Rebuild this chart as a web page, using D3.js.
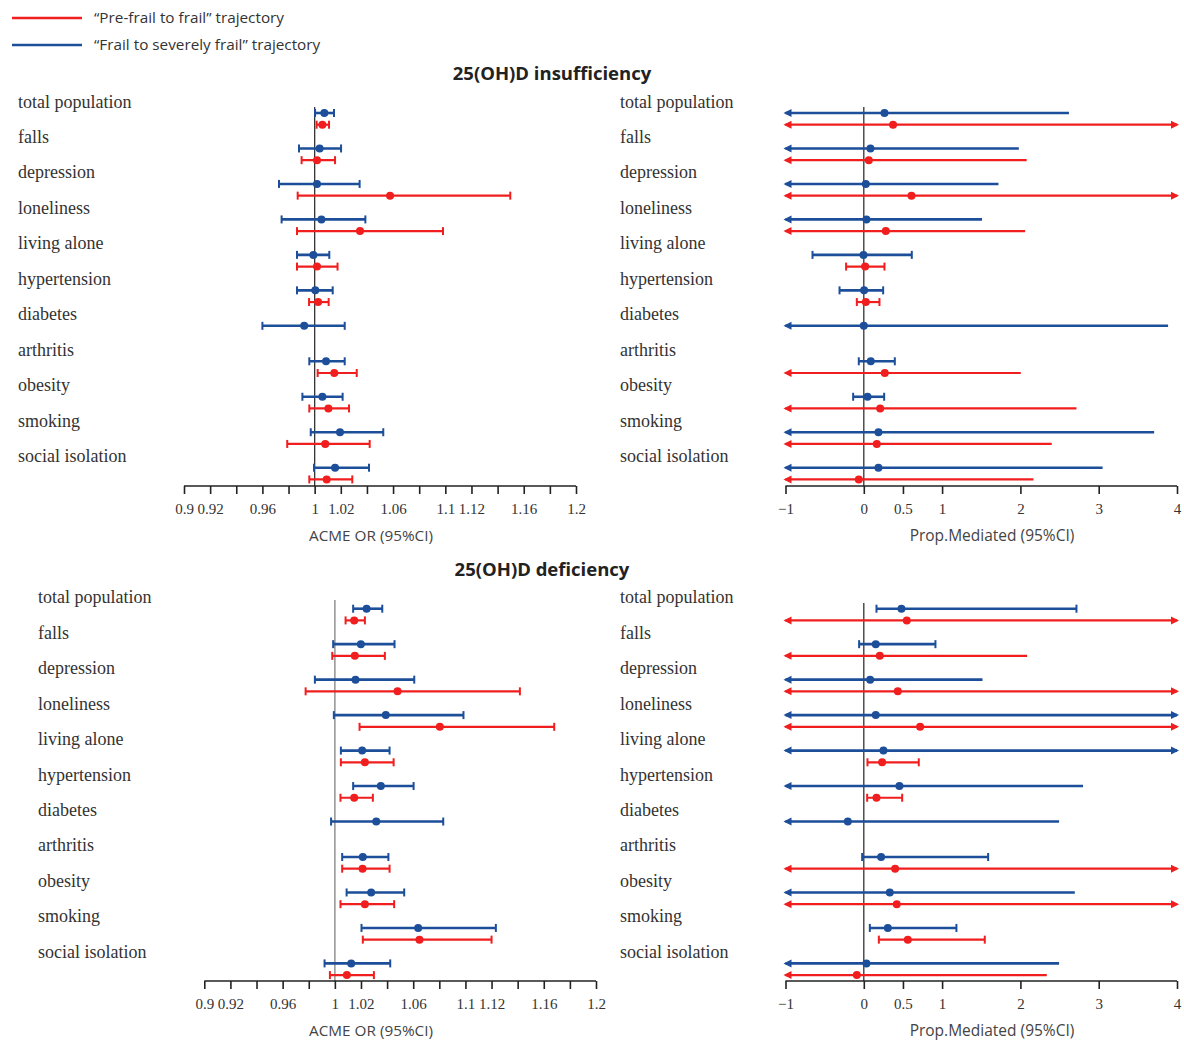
<!DOCTYPE html>
<html>
<head>
<meta charset="utf-8">
<script src="https://cdn.jsdelivr.net/npm/d3@7"></script>
<style>
  body { margin: 0; background: #fff; }
</style>
</head>
<body>
<script>
// Row categories (same order for every panel)
const categories = ["total population", "falls", "depression", "loneliness", "living alone",
  "hypertension", "diabetes", "arthritis", "obesity", "smoking", "social isolation"];

// [lower, estimate, upper]; null = no estimate; +/-Infinity = CI runs past the axis (arrow)
const insuffAcmeBlue = [[1.0003, 1.0074, 1.0148], [0.988, 1.0038, 1.0202], [0.9727, 1.0018, 1.0344],
  [0.9747, 1.0052, 1.0388], [0.9865, 0.999, 1.0112], [0.9865, 1.0005, 1.0138], [0.960, 0.992, 1.023],
  [0.9959, 1.0087, 1.023], [0.9906, 1.0059, 1.0214], [0.997, 1.0194, 1.0525], [0.9995, 1.0156, 1.0416]];
const insuffAcmeRed = [[1.0015, 1.0059, 1.011], [0.990, 1.0018, 1.0156], [0.987, 1.0577, 1.1497],
  [0.9865, 1.0347, 1.0982], [0.9865, 1.0018, 1.0175], [0.9957, 1.0026, 1.0107], null,
  [1.0023, 1.015, 1.0322], [0.9959, 1.0105, 1.0263], [0.979, 1.0081, 1.0421], [0.9959, 1.0092, 1.0288]];

const insuffPropBlue = [[-Infinity, 0.264, 2.62], [-Infinity, 0.085, 1.98], [-Infinity, 0.026, 1.72],
  [-Infinity, 0.034, 1.51], [-0.655, -0.004, 0.613], [-0.31, 0.004, 0.247], [-Infinity, 0.0, 3.886],
  [-0.064, 0.089, 0.396], [-0.136, 0.047, 0.26], [-Infinity, 0.187, 3.708], [-Infinity, 0.187, 3.05]];
const insuffPropRed = [[-Infinity, 0.374, Infinity], [-Infinity, 0.064, 2.08], [-Infinity, 0.609, Infinity],
  [-Infinity, 0.281, 2.06], [-0.226, 0.017, 0.264], [-0.089, 0.026, 0.2], null,
  [-Infinity, 0.268, 2.005], [-Infinity, 0.209, 2.716], [-Infinity, 0.166, 2.40], [-Infinity, -0.064, 2.167]];

const defAcmeBlue = [[1.014, 1.0243, 1.0363], [0.9987, 1.0199, 1.0457], [0.9847, 1.0158, 1.0608],
  [0.9992, 1.039, 1.0985], [1.0046, 1.0209, 1.0419], [1.014, 1.0352, 1.0603], [0.9971, 1.0317, 1.083],
  [1.0056, 1.0214, 1.041], [1.009, 1.0278, 1.0531], [1.0204, 1.0638, 1.1233], [0.9921, 1.0125, 1.0424]];
const defAcmeRed = [[1.0082, 1.0148, 1.023], [0.998, 1.0153, 1.0383], [0.9776, 1.048, 1.1417],
  [1.0189, 1.0804, 1.168], [1.0046, 1.023, 1.045], [1.0043, 1.0148, 1.0291], null,
  [1.0056, 1.0212, 1.0419], [1.0043, 1.023, 1.0454], [1.0214, 1.0648, 1.12], [0.9962, 1.0092, 1.0299]];

const defPropBlue = [[0.162, 0.481, 2.716], [-0.06, 0.153, 0.915], [-Infinity, 0.081, 1.516],
  [-Infinity, 0.153, Infinity], [-Infinity, 0.251, Infinity], [-Infinity, 0.455, 2.80], [-Infinity, -0.204, 2.494],
  [-0.021, 0.221, 1.588], [-Infinity, 0.332, 2.695], [0.077, 0.307, 1.183], [-Infinity, 0.034, 2.494]];
const defPropRed = [[-Infinity, 0.549, Infinity], [-Infinity, 0.204, 2.086], [-Infinity, 0.434, Infinity],
  [-Infinity, 0.719, Infinity], [0.047, 0.234, 0.702], [0.043, 0.162, 0.49], null,
  [-Infinity, 0.4, Infinity], [-Infinity, 0.421, Infinity], [0.192, 0.562, 1.545], [-Infinity, -0.089, 2.337]];

// Axis ticks
const acmeTicks = d3.range(0, 16).map(i => +(0.9 + i * 0.02).toFixed(2));
const acmeLabels = [0.9, 0.92, 0.96, 1, 1.02, 1.06, 1.1, 1.12, 1.16, 1.2];
const propTicks = [-1, 0, 0.5, 1, 2, 3, 4];

const legendItems = [
  { label: "\u201cPre-frail to frail\u201d trajectory", color: "#f01e1e" },
  { label: "\u201cFrail to severely frail\u201d trajectory", color: "#1c4e9a" }
];
const titles = ["25(OH)D insufficiency", "25(OH)D deficiency"];

const RED = "#f01e1e", BLUE = "#1c4e9a";
const width = 1184, height = 1041;

const svg = d3.select("body").append("svg")
  .attr("width", width)
  .attr("height", height)
  .attr("viewBox", [0, 0, width, height]);

// Legend
legendItems.forEach((d, i) => {
  const y = 18 + i * 27;
  svg.append("line")
    .attr("x1", 12).attr("x2", 82).attr("y1", y).attr("y2", y)
    .attr("stroke", d.color).attr("stroke-width", 2.5);
  svg.append("text")
    .attr("x", 94).attr("y", y + 5)
    .attr("font-family", "Open Sans")
    .attr("font-size", "15.3px")
    .attr("fill", "#333")
    .text(d.label);
});

function drawPanel(cfg) {
  const g = svg.append("g");
  const x = d3.scaleLinear().domain(cfg.domain).range(cfg.range);
  const step = 35.47;
  const rowY = i => cfg.rowTop + i * step;

  // row labels
  g.selectAll(".lab")
    .data(categories)
    .join("text")
    .attr("x", cfg.labelX)
    .attr("y", (d, i) => rowY(i) - 5.5)
    .attr("font-family", "Liberation Serif")
    .attr("font-size", "18px")
    .attr("fill", "#333")
    .text(d => d);

  // reference line
  g.append("line")
    .attr("x1", x(cfg.ref)).attr("x2", x(cfg.ref))
    .attr("y1", cfg.refTop).attr("y2", cfg.axisY)
    .attr("stroke", cfg.refColor).attr("stroke-width", cfg.refWidth);

  // axis
  const axis = g.append("g")
    .attr("transform", `translate(0,${cfg.axisY})`)
    .call(d3.axisBottom(x)
      .tickValues(cfg.ticks)
      .tickSize(8)
      .tickFormat(d => cfg.labels.some(l => Math.abs(l - d) < 1e-9) ? cfg.fmt(d) : ""));
  axis.select(".domain").attr("stroke", "#222").attr("stroke-width", 1.6).attr("d",
    `M${cfg.range[0]},0H${cfg.range[1]}`);
  axis.selectAll(".tick line").attr("stroke", "#222").attr("stroke-width", 1.6);
  axis.selectAll(".tick text")
    .attr("font-family", "Liberation Serif")
    .attr("font-size", "15px")
    .attr("fill", "#333")
    .attr("dy", "1.1em");

  g.append("text")
    .attr("x", cfg.titleX).attr("y", cfg.axisY + 55)
    .attr("text-anchor", "middle")
    .attr("font-family", "Open Sans")
    .attr("font-size", cfg.titleSize)
    .attr("fill", "#444")
    .text(cfg.axisTitle);

  // series
  const series = [
    { data: cfg.blue, color: BLUE, off: 0, w: 2.6 },
    { data: cfg.red, color: RED, off: 11.7, w: 2.2 }
  ];
  const [dmin, dmax] = cfg.domain;
  series.forEach(s => {
    s.data.forEach((d, i) => {
      if (!d) return;
      const y = rowY(i) + s.off;
      const loClip = d[0] < dmin, hiClip = d[2] > dmax;
      const x0 = x(Math.max(d[0], dmin)), x1 = x(Math.min(d[2], dmax));
      g.append("line")
        .attr("x1", x0).attr("x2", x1).attr("y1", y).attr("y2", y)
        .attr("stroke", s.color).attr("stroke-width", s.w);
      if (!loClip && !hiClip) {
        [x0, x1].forEach(cx => g.append("line")
          .attr("x1", cx).attr("x2", cx).attr("y1", y - 4).attr("y2", y + 4)
          .attr("stroke", s.color).attr("stroke-width", 2));
      }
      if (loClip) {
        g.append("path")
          .attr("d", `M${x0 - 2},${y}L${x0 + 6},${y - 4}L${x0 + 6},${y + 4}Z`)
          .attr("fill", s.color);
      }
      if (hiClip) {
        g.append("path")
          .attr("d", `M${x1 + 2},${y}L${x1 - 6},${y - 4}L${x1 - 6},${y + 4}Z`)
          .attr("fill", s.color);
      }
      g.append("circle")
        .attr("cx", x(d[1])).attr("cy", y).attr("r", 4)
        .attr("fill", s.color);
    });
  });
}

const fmtAcme = d => d3.format("")(d);
const fmtProp = d => d3.format("")(d);

// Titles
svg.append("text").attr("x", 552).attr("y", 80).attr("text-anchor", "middle")
  .attr("font-family", "Open Sans").attr("font-weight", "bold").attr("font-size", "18.5px")
  .attr("fill", "#222").text(titles[0]);
svg.append("text").attr("x", 542).attr("y", 576).attr("text-anchor", "middle")
  .attr("font-family", "Open Sans").attr("font-weight", "bold").attr("font-size", "18.5px")
  .attr("fill", "#222").text(titles[1]);

// top-left
drawPanel({ domain: [0.9, 1.2], range: [184, 576], rowTop: 113, axisY: 486, labelX: 18,
  ref: 1, refTop: 107, refColor: "#333", refWidth: 1.3, ticks: acmeTicks, labels: acmeLabels,
  fmt: fmtAcme, axisTitle: "ACME OR (95%CI)", titleX: 371, titleSize: "15.3px",
  blue: insuffAcmeBlue, red: insuffAcmeRed });
// top-right
drawPanel({ domain: [-1, 4], range: [785.5, 1177], rowTop: 113, axisY: 486, labelX: 620,
  ref: 0, refTop: 107, refColor: "#333", refWidth: 1.3, ticks: propTicks, labels: propTicks,
  fmt: fmtProp, axisTitle: "Prop.Mediated (95%CI)", titleX: 992, titleSize: "15.5px",
  blue: insuffPropBlue, red: insuffPropRed });
// bottom-left
drawPanel({ domain: [0.9, 1.2], range: [204.3, 596], rowTop: 608.7, axisY: 981, labelX: 38,
  ref: 1, refTop: 600, refColor: "#999", refWidth: 1.6, ticks: acmeTicks, labels: acmeLabels,
  fmt: fmtAcme, axisTitle: "ACME OR (95%CI)", titleX: 371, titleSize: "15.3px",
  blue: defAcmeBlue, red: defAcmeRed });
// bottom-right
drawPanel({ domain: [-1, 4], range: [785.5, 1177], rowTop: 608.7, axisY: 981, labelX: 620,
  ref: 0, refTop: 603, refColor: "#333", refWidth: 1.3, ticks: propTicks, labels: propTicks,
  fmt: fmtProp, axisTitle: "Prop.Mediated (95%CI)", titleX: 992, titleSize: "15.5px",
  blue: defPropBlue, red: defPropRed });
</script>
</body>
</html>
